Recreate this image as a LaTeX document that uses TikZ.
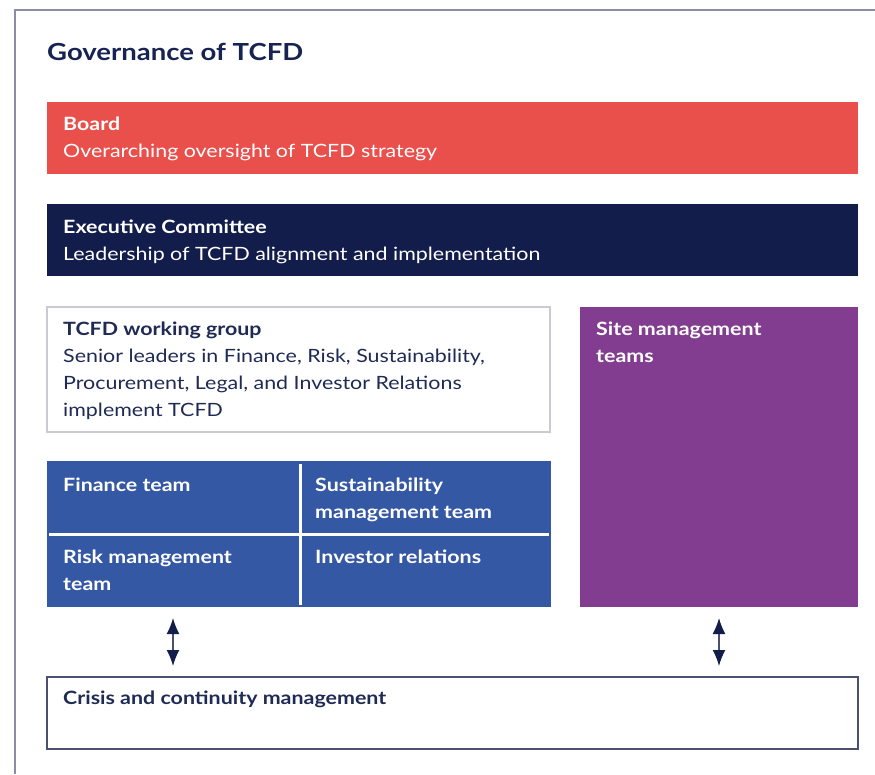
\documentclass[tikz,border=0pt]{standalone}
\usepackage{fontspec}
\setmainfont{Lato}[FakeStretch=1.17]
\usetikzlibrary{arrows.meta}
\definecolor{boardred}{HTML}{E94F4B}
\definecolor{execnavy}{HTML}{131D4C}
\definecolor{teamblue}{HTML}{3558A5}
\definecolor{sitepurple}{HTML}{823D91}
\definecolor{titlenavy}{HTML}{172352}
\definecolor{framegrey}{HTML}{8A8DA8}
\definecolor{lightedge}{HTML}{C9CAD3}
\definecolor{darkedge}{HTML}{4A5070}
\definecolor{inknavy}{HTML}{1F2A55}
\tikzset{
  panel/.style={anchor=north west, inner sep=0pt, outer sep=0pt},
  bodytext/.style={anchor=north west, inner sep=0pt, align=left,
    font=\fontsize{18.3}{27}\selectfont},
  whitetext/.style={bodytext, text=white},
  darktext/.style={bodytext, text=inknavy},
  divider/.style={white, line width=3pt},
  dblarrow/.style={draw=darkedge, line width=1.5pt,
    {Latex[length=16pt,width=13pt,fill=execnavy,color=execnavy]}-{Latex[length=16pt,width=13pt,fill=execnavy,color=execnavy]}}
}
\begin{document}
\begin{tikzpicture}[x=1pt,y=-1pt]
\useasboundingbox (0,0) rectangle (875,774);
% outer frame: top and left edges
\draw[framegrey, line width=1.5pt] (15,774) -- (15,10) -- (875,10);
% heading
\node[anchor=base west, inner sep=0pt, text=titlenavy,
  font=\fontsize{23.5}{28}\selectfont\bfseries] (title) at (47,60) {Governance of TCFD};
% board
\node[panel, fill=boardred, minimum width=811pt, minimum height=72pt] (board) at (47,102) {};
\node[whitetext] (boardtxt) at (63,117) {\textbf{Board}\\Overarching oversight of TCFD strategy};
% executive committee
\node[panel, fill=execnavy, minimum width=811pt, minimum height=72pt] (exec) at (47,204) {};
\node[whitetext] (exectxt) at (63,220) {\textbf{Executive Committee}\\Leadership of TCFD alignment and implementation};
% working group
\node[panel, draw=lightedge, line width=1.2pt, minimum width=503pt, minimum height=125pt] (wg) at (47,307) {};
\node[darktext] (wgtxt) at (63,322) {\textbf{TCFD working group}\\Senior leaders in Finance, Risk, Sustainability,\\Procurement, Legal, and Investor Relations\\implement TCFD};
% team grid
\node[panel, fill=teamblue, minimum width=504pt, minimum height=146pt] (grid) at (47,461) {};
\draw[divider] (300,464) -- (300,605);
\draw[divider] (49,534) -- (549,534);
\node[whitetext] (fin) at (63,478) {\textbf{Finance team}};
\node[whitetext] (sus) at (315,478) {\textbf{Sustainability}\\\textbf{management team}};
\node[whitetext] (risk) at (63,550) {\textbf{Risk management}\\\textbf{team}};
\node[whitetext] (inv) at (315,550) {\textbf{Investor relations}};
% site management
\node[panel, fill=sitepurple, minimum width=278pt, minimum height=300pt] (site) at (580,307) {};
\node[whitetext] (sitetxt) at (596,322) {\textbf{Site management}\\\textbf{teams}};
% crisis and continuity
\node[panel, draw=darkedge, line width=1.2pt, minimum width=811pt, minimum height=72pt] (crisis) at (47,677) {};
\node[darktext] (crisistxt) at (63,691) {\textbf{Crisis and continuity management}};
% two-way links
\coordinate (la) at (173,618);
\coordinate (lb) at (173,666);
\coordinate (ra) at (719,618);
\coordinate (rb) at (719,666);
\draw[dblarrow] (la) -- (lb);
\draw[dblarrow] (ra) -- (rb);
\end{tikzpicture}
\end{document}
